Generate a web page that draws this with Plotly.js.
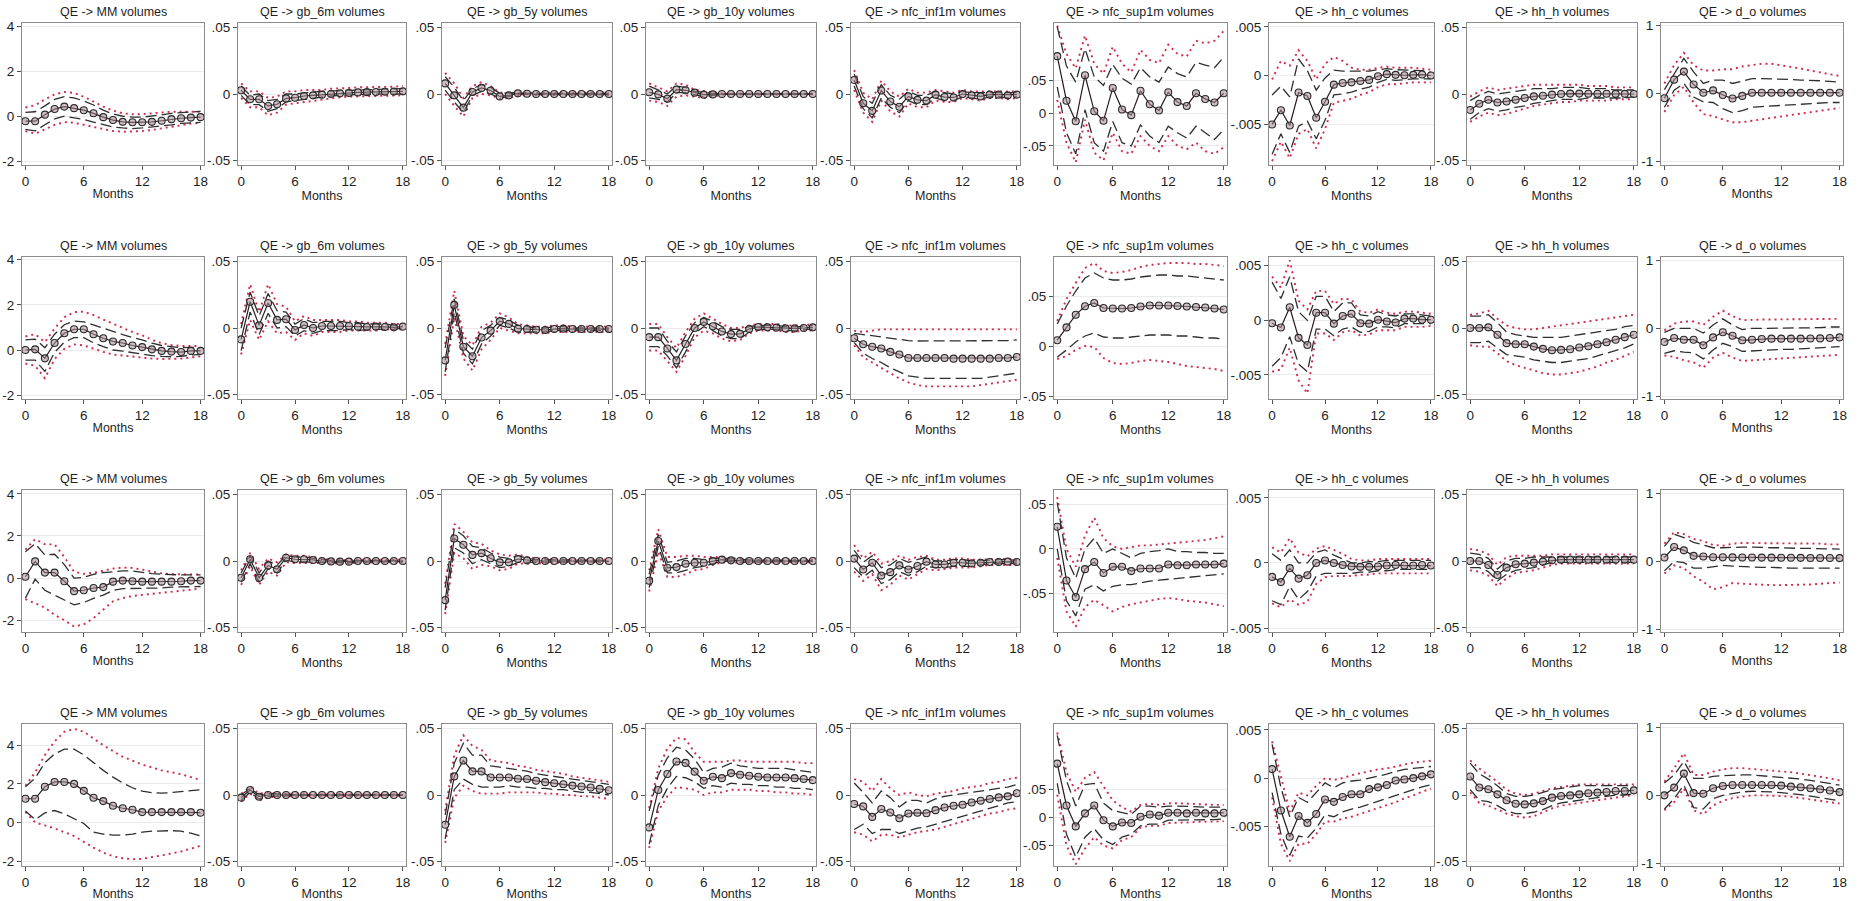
<!DOCTYPE html>
<html>
<head>
<meta charset="utf-8">
<script src="https://cdn.plot.ly/plotly-3.0.1.min.js"></script>
<style>
  html, body { margin: 0; padding: 0; background: #fff; }
  #irf_grid { width: 1865px; height: 901px; }
</style>
</head>
<body>
<div id="irf_grid"></div>
<script>
// impulse responses of volumes to a QE shock, 4 specifications x 9 variables
var months = [0,1,2,3,4,5,6,7,8,9,10,11,12,13,14,15,16,17,18];
var monthTicks = [0,6,12,18];
var varNames = ['MM','gb_6m','gb_5y','gb_10y','nfc_inf1m','nfc_sup1m','hh_c','hh_h','d_o'];

var yTickVals = [[-2,0,2,4],[-0.05,0,0.05],[-0.05,0,0.05],[-0.05,0,0.05],[-0.05,0,0.05],
                 [-0.05,0,0.05],[-0.005,0,0.005],[-0.05,0,0.05],[-1,0,1]];
var yTickText = [['-2','0','2','4'],['-.05','0','.05'],['-.05','0','.05'],['-.05','0','.05'],['-.05','0','.05'],
                 ['-.05','0','.05'],['-.005','0','.005'],['-.05','0','.05'],['-1','0','1']];

// ---- row 1 ----
var irfRow1 = [
  [-0.22,-0.22,0.07,0.32,0.43,0.36,0.27,0.13,-0.04,-0.17,-0.25,-0.27,-0.27,-0.25,-0.2,-0.13,-0.09,-0.06,-0.04],
  [0.0028,-0.004,-0.004,-0.009,-0.0077,-0.0033,-0.0028,-0.0015,-0.001,-0.0005,0,0.0005,0.0008,0.0012,0.0014,0.0015,0.0017,0.0018,0.002],
  [0.008,-0.001,-0.0103,0.0015,0.0046,0.0026,-0.0018,-0.001,0.0005,0.0002,0,0,0,0,0,0,0,0,0],
  [0.0013,-0.0003,-0.0036,0.0033,0.0028,0.001,-0.0005,-0.0003,0,0,0,0,0,0,0,0,0,0,0],
  [0.0106,-0.007,-0.0127,0.0026,-0.0057,-0.0096,-0.0018,-0.0044,-0.005,-0.0005,-0.0023,-0.0026,0,-0.001,-0.0018,-0.0005,-0.0005,-0.001,-0.0005],
  [0.0866,0.0188,-0.0124,0.0575,0.0027,-0.0118,0.0382,0.0054,-0.0032,0.0339,0.0134,0.0038,0.0317,0.0167,0.0108,0.0301,0.0215,0.0161,0.0301],
  [-0.00503,-0.00357,-0.00514,-0.00175,-0.0021,-0.00434,-0.0027,-0.00094,-0.00077,-0.0007,-0.00056,-0.00045,-0.00007,0.00014,0.00007,0.00003,0.00007,0.0001,0],
  [-0.012,-0.0074,-0.0043,-0.0064,-0.0056,-0.0043,-0.003,-0.0018,-0.0013,-0.0005,0,0.0003,0.0003,0.0002,0.0002,0.0002,0.0001,0.0001,0],
  [-0.067,0.206,0.325,0.134,0.014,0.048,-0.019,-0.072,-0.033,0.014,0.014,0.014,0.014,0.014,0.014,0.014,0.014,0.014,0.014]
];
var hi68Row1 = [
  [0.17,0.2,0.46,0.75,0.87,0.82,0.68,0.5,0.27,0.1,0,-0.04,-0.04,0,0.06,0.13,0.17,0.2,0.22],
  [0.006,-0.001,0,-0.005,-0.004,0,0,0.001,0.0015,0.002,0.002,0.0025,0.0028,0.003,0.003,0.0032,0.0035,0.0037,0.004],
  [0.013,0.005,-0.005,0.004,0.007,0.005,0.0005,0.001,0.001,0.0005,0.0005,0.0005,0.0005,0.0005,0.0005,0.0005,0.0005,0.0005,0.0005],
  [0.006,0.003,0,0.006,0.005,0.002,0.001,0.0005,0.0003,0.0003,0.0003,0.0003,0.0003,0.0003,0.0003,0.0003,0.0003,0.0003,0.0003],
  [0.015,-0.002,-0.007,0.007,-0.001,-0.004,0.002,-0.001,-0.001,0.002,0.001,0,0.002,0.001,0.001,0.001,0.001,0.001,0.001],
  [0.131,0.0715,0.047,0.098,0.055,0.042,0.074,0.053,0.044,0.069,0.055,0.047,0.07,0.06,0.055,0.077,0.073,0.069,0.085],
  [-0.002,-0.0011,-0.0022,0.0017,0.0005,-0.0015,-0.00025,0.00056,0.00045,0.00045,0.0004,0.00045,0.0006,0.0007,0.0006,0.00056,0.00056,0.0005,0.00035],
  [-0.005,-0.001,0.002,0,0.001,0.002,0.003,0.004,0.004,0.004,0.005,0.005,0.005,0.004,0.004,0.004,0.003,0.003,0.003],
  [0.06,0.3,0.52,0.32,0.15,0.2,0.2,0.15,0.18,0.22,0.22,0.22,0.22,0.21,0.2,0.2,0.19,0.18,0.17]
];
var lo68Row1 = [
  [-0.58,-0.65,-0.38,-0.12,0,-0.07,-0.14,-0.26,-0.38,-0.48,-0.52,-0.55,-0.52,-0.48,-0.45,-0.38,-0.32,-0.29,-0.27],
  [-0.001,-0.008,-0.008,-0.013,-0.011,-0.006,-0.005,-0.004,-0.003,-0.002,-0.0015,-0.001,-0.0005,-0.0003,-0.0002,-0.0001,0,0,0],
  [0.003,-0.006,-0.014,-0.001,0.002,0,-0.003,-0.002,0,-0.0005,-0.0005,-0.0005,-0.0005,-0.0005,-0.0005,-0.0005,-0.0005,-0.0005,-0.0005],
  [-0.003,-0.004,-0.006,0.001,0.001,-0.0005,-0.002,-0.001,-0.0003,-0.0003,-0.0003,-0.0003,-0.0003,-0.0003,-0.0003,-0.0003,-0.0003,-0.0003,-0.0003],
  [0.006,-0.011,-0.018,-0.003,-0.01,-0.014,-0.005,-0.008,-0.008,-0.003,-0.005,-0.005,-0.002,-0.003,-0.004,-0.002,-0.002,-0.003,-0.002],
  [0.04,-0.03,-0.062,0.005,-0.045,-0.058,-0.013,-0.045,-0.05,-0.018,-0.035,-0.045,-0.02,-0.03,-0.038,-0.02,-0.03,-0.04,-0.025],
  [-0.0081,-0.006,-0.0079,-0.0052,-0.0047,-0.0065,-0.0046,-0.002,-0.0019,-0.0017,-0.0014,-0.0012,-0.0007,-0.0004,-0.0005,-0.0004,-0.00035,-0.00035,-0.00035],
  [-0.019,-0.014,-0.011,-0.013,-0.012,-0.01,-0.009,-0.007,-0.006,-0.005,-0.004,-0.004,-0.004,-0.003,-0.003,-0.003,-0.003,-0.003,-0.002],
  [-0.2,0.05,0.15,-0.05,-0.12,-0.13,-0.22,-0.28,-0.25,-0.2,-0.19,-0.18,-0.17,-0.16,-0.15,-0.14,-0.13,-0.13,-0.13]
];
var hi90Row1 = [
  [0.39,0.49,0.75,0.97,1.08,1.04,0.87,0.65,0.43,0.25,0.13,0.09,0.09,0.13,0.17,0.2,0.2,0.2,0.2],
  [0.008,0.002,0.002,-0.003,-0.002,0.002,0.002,0.003,0.003,0.003,0.004,0.004,0.0045,0.005,0.005,0.005,0.0055,0.0055,0.006],
  [0.016,0.008,-0.003,0.006,0.009,0.006,0.001,0.001,0.0015,0.001,0.001,0.001,0.001,0.001,0.001,0.001,0.001,0.001,0.001],
  [0.008,0.005,0.002,0.008,0.007,0.003,0.002,0.001,0.0005,0.0005,0.0005,0.0005,0.0005,0.0005,0.0005,0.0005,0.0005,0.0005,0.0005],
  [0.018,0.001,-0.004,0.01,0.002,-0.002,0.004,0.001,0.001,0.003,0.002,0.001,0.003,0.002,0.002,0.002,0.002,0.002,0.002],
  [0.133,0.09,0.068,0.118,0.075,0.06,0.101,0.075,0.062,0.096,0.081,0.076,0.104,0.09,0.086,0.11,0.106,0.11,0.125],
  [-0.0004,0.0015,0.001,0.0026,0.0015,-0.0004,0.0012,0.0019,0.0015,0.0008,0.0006,0.0006,0.0008,0.0009,0.0008,0.0008,0.0008,0.0007,0.0006],
  [-0.002,0.002,0.005,0.003,0.004,0.005,0.006,0.007,0.007,0.007,0.007,0.007,0.007,0.006,0.006,0.006,0.005,0.005,0.005],
  [0.15,0.42,0.6,0.42,0.34,0.34,0.36,0.36,0.4,0.42,0.44,0.44,0.42,0.4,0.37,0.34,0.31,0.29,0.26]
];
var lo90Row1 = [
  [-0.66,-0.77,-0.59,-0.38,-0.26,-0.29,-0.38,-0.48,-0.59,-0.66,-0.69,-0.69,-0.66,-0.61,-0.55,-0.48,-0.4,-0.33,-0.29],
  [-0.003,-0.01,-0.01,-0.016,-0.014,-0.008,-0.007,-0.006,-0.005,-0.004,-0.003,-0.0025,-0.002,-0.0018,-0.0015,-0.0013,-0.0012,-0.001,-0.001],
  [0,-0.009,-0.017,-0.003,0,-0.001,-0.0035,-0.003,-0.001,-0.0008,-0.0008,-0.0008,-0.0008,-0.0008,-0.0008,-0.0008,-0.0008,-0.0008,-0.0008],
  [-0.005,-0.006,-0.009,-0.002,-0.001,-0.002,-0.003,-0.002,-0.0005,-0.0005,-0.0005,-0.0005,-0.0005,-0.0005,-0.0005,-0.0005,-0.0005,-0.0005,-0.0005],
  [0.003,-0.014,-0.021,-0.005,-0.013,-0.017,-0.007,-0.01,-0.01,-0.005,-0.006,-0.006,-0.003,-0.004,-0.005,-0.003,-0.003,-0.004,-0.003],
  [0.02,-0.045,-0.075,-0.01,-0.06,-0.072,-0.03,-0.058,-0.062,-0.035,-0.05,-0.058,-0.035,-0.05,-0.055,-0.045,-0.058,-0.062,-0.052],
  [-0.0088,-0.0068,-0.0085,-0.006,-0.0055,-0.0075,-0.0055,-0.0028,-0.0026,-0.0024,-0.002,-0.0017,-0.0012,-0.0009,-0.0009,-0.0008,-0.0007,-0.0007,-0.0007],
  [-0.021,-0.017,-0.014,-0.016,-0.015,-0.013,-0.011,-0.009,-0.008,-0.007,-0.006,-0.006,-0.005,-0.005,-0.005,-0.005,-0.004,-0.004,-0.004],
  [-0.27,-0.02,0.1,-0.13,-0.3,-0.33,-0.38,-0.42,-0.42,-0.4,-0.38,-0.36,-0.34,-0.32,-0.3,-0.28,-0.25,-0.23,-0.21]
];

// ---- row 2 ----
var irfRow2 = [
  [0,0.03,-0.37,0.31,0.74,0.92,0.92,0.7,0.52,0.38,0.31,0.2,0.13,0.03,-0.04,-0.07,-0.09,-0.04,-0.04],
  [-0.0086,0.0198,0.002,0.0188,0.0061,0.0066,-0.0015,0.0023,0,0.0015,0.0015,0.0015,0.0015,0.001,0.0008,0.001,0.0008,0.0005,0.001],
  [-0.0244,0.0174,-0.0141,-0.0213,-0.0072,-0.002,0.0051,0.0031,-0.0005,-0.0008,-0.0013,-0.0015,-0.0008,-0.0005,-0.0008,-0.0008,-0.0008,-0.0008,-0.0008],
  [-0.0069,-0.0069,-0.0154,-0.0244,-0.012,0,0.0046,0.0013,-0.0026,-0.0046,-0.0044,-0.0008,0.0008,0.0005,0.0003,-0.0003,-0.0003,0,0.0005],
  [-0.0077,-0.0123,-0.0141,-0.0154,-0.018,-0.02,-0.0226,-0.0226,-0.0226,-0.0226,-0.0226,-0.0231,-0.0231,-0.0231,-0.0231,-0.0231,-0.0226,-0.0226,-0.0218],
  [0.0058,0.0186,0.0312,0.0397,0.043,0.038,0.0375,0.0375,0.038,0.0395,0.0405,0.0405,0.0405,0.04,0.0395,0.039,0.0385,0.0375,0.0365],
  [-0.00026,-0.00065,0.0012,-0.0016,-0.00226,0.0007,0.0007,-0.0003,0.0004,0.0006,-0.00026,-0.0003,0.00006,-0.0001,-0.0002,0.00016,0.00016,0.00006,0.00006],
  [0,0,0.0005,-0.0051,-0.0114,-0.0122,-0.0122,-0.014,-0.0157,-0.0168,-0.0165,-0.016,-0.0147,-0.0137,-0.0122,-0.0107,-0.0089,-0.0069,-0.0051],
  [-0.2,-0.143,-0.167,-0.167,-0.248,-0.133,-0.057,-0.11,-0.176,-0.167,-0.157,-0.152,-0.152,-0.152,-0.152,-0.15,-0.148,-0.143,-0.133]
];
var hi68Row2 = [
  [0.45,0.48,0.1,0.7,1.12,1.28,1.25,1.1,0.95,0.8,0.68,0.55,0.45,0.3,0.2,0.15,0.1,0.12,0.1],
  [0,0.027,0.009,0.026,0.013,0.012,0.003,0.007,0.004,0.005,0.005,0.005,0.004,0.004,0.003,0.003,0.003,0.002,0.002],
  [-0.015,0.022,-0.009,-0.016,-0.002,0.002,0.008,0.006,0.002,0.001,0,0,0.001,0.001,0,0,0,0,0],
  [0,0,-0.01,-0.018,-0.006,0.004,0.008,0.005,0.001,-0.001,-0.001,0.001,0.002,0.002,0.002,0.001,0.001,0.001,0.002],
  [-0.004,-0.005,-0.006,-0.007,-0.008,-0.009,-0.0095,-0.0098,-0.0098,-0.0095,-0.0095,-0.0095,-0.01,-0.01,-0.01,-0.01,-0.0098,-0.0095,-0.009],
  [0.022,0.04,0.055,0.068,0.073,0.068,0.066,0.066,0.067,0.069,0.07,0.071,0.071,0.07,0.07,0.069,0.068,0.067,0.066],
  [0.0035,0.002,0.004,0.0008,0,0.0022,0.0022,0.0008,0.0016,0.0016,0.0005,0.0004,0.0008,0.0005,0.0004,0.0006,0.0006,0.0005,0.0004],
  [0.009,0.009,0.01,0.004,-0.003,-0.005,-0.006,-0.007,-0.007,-0.007,-0.007,-0.006,-0.005,-0.004,-0.003,-0.002,-0.001,0.001,0.002],
  [-0.06,0,0,0,-0.07,0.05,0.14,0.05,-0.02,0,0,0,0.01,0.01,0.01,0.01,0.01,0.02,0.02]
];
var lo68Row2 = [
  [-0.45,-0.45,-0.95,-0.1,0.35,0.55,0.55,0.32,0.15,0,-0.05,-0.12,-0.18,-0.25,-0.28,-0.3,-0.28,-0.22,-0.2],
  [-0.017,0.012,-0.005,0.011,0,0.001,-0.006,-0.002,-0.004,-0.002,-0.002,-0.002,-0.001,-0.002,-0.001,-0.001,-0.001,-0.001,0],
  [-0.033,0.012,-0.019,-0.027,-0.012,-0.006,0.002,0,-0.003,-0.003,-0.003,-0.003,-0.002,-0.002,-0.002,-0.002,-0.002,-0.002,-0.002],
  [-0.014,-0.014,-0.021,-0.03,-0.018,-0.004,0.001,-0.002,-0.006,-0.008,-0.008,-0.003,-0.001,-0.001,-0.001,-0.002,-0.002,-0.001,-0.001],
  [-0.011,-0.019,-0.023,-0.026,-0.03,-0.033,-0.036,-0.037,-0.038,-0.038,-0.038,-0.038,-0.038,-0.038,-0.038,-0.037,-0.036,-0.035,-0.034],
  [-0.011,-0.004,0.004,0.01,0.013,0.009,0.008,0.008,0.009,0.01,0.011,0.011,0.011,0.01,0.01,0.009,0.008,0.008,0.007],
  [-0.0042,-0.0034,-0.0015,-0.004,-0.0047,-0.0008,-0.0008,-0.0014,-0.0008,-0.0006,-0.0011,-0.001,-0.0006,-0.0006,-0.0007,-0.0003,-0.0003,-0.0003,-0.0003],
  [-0.011,-0.011,-0.01,-0.015,-0.02,-0.021,-0.022,-0.024,-0.025,-0.026,-0.026,-0.025,-0.024,-0.023,-0.021,-0.019,-0.017,-0.015,-0.012],
  [-0.37,-0.33,-0.35,-0.36,-0.45,-0.32,-0.22,-0.27,-0.34,-0.33,-0.32,-0.32,-0.31,-0.31,-0.3,-0.3,-0.29,-0.28,-0.27]
];
var hi90Row2 = [
  [0.6,0.7,0.35,0.95,1.45,1.68,1.7,1.55,1.35,1.15,0.98,0.8,0.65,0.45,0.3,0.22,0.18,0.18,0.18],
  [0.003,0.033,0.012,0.033,0.018,0.016,0.005,0.009,0.006,0.006,0.006,0.006,0.005,0.005,0.004,0.004,0.004,0.003,0.003],
  [-0.012,0.028,-0.006,-0.013,0.001,0.004,0.011,0.008,0.003,0.002,0.001,0.001,0.002,0.002,0.001,0.001,0.001,0.001,0.001],
  [0.003,0.003,-0.007,-0.015,-0.003,0.007,0.011,0.007,0.003,0,0,0.002,0.003,0.003,0.003,0.002,0.002,0.002,0.003],
  [-0.002,-0.003,-0.002,-0.001,-0.001,-0.001,-0.001,-0.001,-0.001,-0.001,-0.001,-0.001,-0.001,-0.001,-0.001,-0.001,-0.001,-0.001,-0.001],
  [0.025,0.047,0.063,0.078,0.083,0.075,0.073,0.074,0.076,0.079,0.081,0.082,0.083,0.083,0.083,0.082,0.082,0.081,0.08],
  [0.004,0.003,0.0055,0.0018,0.001,0.0027,0.0027,0.0015,0.002,0.0019,0.0008,0.0007,0.001,0.0007,0.0006,0.0008,0.0008,0.0007,0.0006],
  [0.01,0.011,0.013,0.007,0.002,0,-0.001,-0.001,0,0.001,0.002,0.003,0.004,0.005,0.006,0.007,0.008,0.009,0.01],
  [-0.03,0.07,0.1,0.1,0.05,0.17,0.26,0.18,0.12,0.13,0.13,0.13,0.13,0.13,0.13,0.13,0.13,0.14,0.14]
];
var lo90Row2 = [
  [-0.6,-0.7,-1.25,-0.4,0.05,0.25,0.2,0.05,-0.08,-0.2,-0.25,-0.3,-0.35,-0.38,-0.4,-0.4,-0.38,-0.33,-0.28],
  [-0.02,0.006,-0.009,0.005,-0.004,-0.003,-0.009,-0.004,-0.006,-0.003,-0.003,-0.003,-0.002,-0.002,-0.002,-0.002,-0.001,-0.001,-0.001],
  [-0.036,0.008,-0.023,-0.032,-0.016,-0.009,0,-0.002,-0.004,-0.004,-0.004,-0.004,-0.003,-0.003,-0.003,-0.003,-0.003,-0.003,-0.003],
  [-0.017,-0.017,-0.025,-0.033,-0.021,-0.007,-0.002,-0.004,-0.008,-0.01,-0.009,-0.004,-0.002,-0.002,-0.002,-0.003,-0.003,-0.002,-0.002],
  [-0.013,-0.022,-0.026,-0.03,-0.034,-0.038,-0.041,-0.043,-0.044,-0.044,-0.044,-0.044,-0.044,-0.044,-0.043,-0.042,-0.041,-0.04,-0.039],
  [-0.013,-0.01,-0.004,0,-0.001,-0.012,-0.017,-0.018,-0.017,-0.015,-0.014,-0.015,-0.016,-0.018,-0.02,-0.021,-0.022,-0.023,-0.025],
  [-0.0047,-0.0045,-0.0025,-0.0055,-0.0067,-0.0012,-0.0012,-0.0018,-0.0011,-0.0009,-0.0014,-0.0013,-0.0009,-0.0009,-0.0009,-0.0006,-0.0006,-0.0006,-0.0005],
  [-0.013,-0.014,-0.014,-0.019,-0.025,-0.028,-0.03,-0.032,-0.034,-0.035,-0.035,-0.034,-0.033,-0.031,-0.029,-0.026,-0.024,-0.021,-0.018],
  [-0.4,-0.42,-0.47,-0.5,-0.58,-0.43,-0.36,-0.43,-0.48,-0.47,-0.46,-0.45,-0.44,-0.43,-0.43,-0.42,-0.41,-0.4,-0.39]
];

// ---- row 3 ----
var irfRow3 = [
  [0.06,0.79,0.26,0.26,-0.15,-0.62,-0.58,-0.47,-0.43,-0.17,-0.12,-0.15,-0.17,-0.17,-0.17,-0.17,-0.15,-0.12,-0.12],
  [-0.0126,0.0013,-0.0126,-0.0033,-0.0063,0.0025,0.0013,0.0013,0.0008,0,-0.0003,-0.0005,-0.0005,0,0,0,0,0,0],
  [-0.0295,0.0169,0.0123,0.0046,0.0059,0.0021,-0.001,-0.001,0.0015,0.0005,0,0,0,0,0,0,0,0,0],
  [-0.0149,0.0151,-0.0051,-0.0046,-0.0021,-0.0013,-0.0013,0,0.001,0.0005,0,0,0,0,0,0,0,0,0],
  [0.0018,-0.0064,-0.0013,-0.011,-0.0084,-0.0033,-0.0064,-0.0038,-0.0005,-0.0026,-0.0026,-0.0013,-0.0013,-0.0018,-0.0013,-0.0008,-0.0008,-0.0005,-0.0008],
  [0.0248,-0.0354,-0.054,-0.0226,-0.0146,-0.027,-0.02,-0.02,-0.0248,-0.0219,-0.0219,-0.0219,-0.0175,-0.0182,-0.0182,-0.0175,-0.0175,-0.0175,-0.0164],
  [-0.00107,-0.00147,-0.0004,-0.0012,-0.00094,0,0.00019,0,-0.00016,-0.00027,-0.0003,-0.0003,-0.00027,-0.0002,-0.00016,-0.0002,-0.0002,-0.00016,-0.0002],
  [0,0,-0.003,-0.0105,-0.005,-0.0025,-0.002,-0.0012,-0.0005,0.0005,0.001,0.001,0.001,0.001,0.001,0.001,0.001,0.001,0.001],
  [0.057,0.21,0.162,0.081,0.072,0.06,0.06,0.058,0.057,0.056,0.055,0.054,0.053,0.052,0.051,0.05,0.05,0.049,0.048]
];
var hi68Row3 = [
  [1.25,1.63,1.1,1.13,0.64,0,0.03,0.18,0.26,0.3,0.34,0.34,0.26,0.21,0.18,0.15,0.15,0.15,0.15],
  [-0.009,0.004,-0.009,0,-0.003,0.004,0.003,0.003,0.002,0.001,0.0005,0.0003,0.0003,0.0005,0.0005,0.0005,0.0005,0.0005,0.0005],
  [-0.02,0.024,0.019,0.011,0.01,0.006,0.003,0.002,0.004,0.002,0.001,0.001,0.001,0.0005,0.0005,0.0005,0.0005,0.0005,0.0005],
  [-0.01,0.02,-0.001,0,0.002,0.002,0.001,0.002,0.002,0.0015,0.001,0.0008,0.0006,0.0005,0.0005,0.0005,0.0005,0.0005,0.0005],
  [0.008,-0.001,0.004,-0.005,-0.003,0.002,-0.001,0.001,0.003,0,0,0.001,0.001,0,0.0005,0.001,0.001,0.001,0.0005],
  [0.052,-0.01,-0.033,0,0.012,-0.005,0,-0.005,-0.01,-0.005,-0.003,-0.002,0,-0.003,-0.003,-0.004,-0.004,-0.005,-0.005],
  [0.0007,0.0002,0.001,0,0,0.0008,0.001,0.0006,0.0003,0,0,0.0001,0.0001,0.0002,0.0002,0.0002,0.0002,0.0002,0.0002],
  [0.006,0.005,0.002,-0.006,0,0.002,0.002,0.003,0.003,0.003,0.003,0.003,0.003,0.003,0.003,0.003,0.003,0.003,0.003],
  [0.22,0.4,0.35,0.28,0.24,0.2,0.2,0.21,0.21,0.21,0.2,0.2,0.2,0.19,0.19,0.19,0.19,0.19,0.18]
];
var lo68Row3 = [
  [-0.95,-0.05,-0.58,-0.81,-1.04,-1.27,-1.16,-0.96,-0.81,-0.58,-0.5,-0.5,-0.5,-0.5,-0.47,-0.43,-0.43,-0.4,-0.4],
  [-0.016,-0.002,-0.016,-0.006,-0.009,0.0005,-0.0005,-0.0005,-0.0005,-0.001,-0.0012,-0.0013,-0.0013,-0.0008,-0.0006,-0.0005,-0.0005,-0.0005,-0.0005],
  [-0.037,0.01,0.006,-0.002,0.001,-0.002,-0.005,-0.004,-0.001,-0.001,-0.001,-0.001,-0.001,-0.0008,-0.0006,-0.0005,-0.0005,-0.0005,-0.0005],
  [-0.02,0.011,-0.009,-0.009,-0.007,-0.005,-0.004,-0.002,0,-0.0005,-0.001,-0.0008,-0.0006,-0.0005,-0.0005,-0.0005,-0.0005,-0.0005,-0.0005],
  [-0.005,-0.012,-0.007,-0.017,-0.014,-0.008,-0.011,-0.008,-0.004,-0.005,-0.005,-0.004,-0.004,-0.004,-0.003,-0.002,-0.002,-0.002,-0.002],
  [0,-0.058,-0.075,-0.045,-0.04,-0.047,-0.042,-0.04,-0.04,-0.038,-0.036,-0.035,-0.034,-0.033,-0.032,-0.031,-0.03,-0.029,-0.028],
  [-0.0029,-0.0032,-0.0018,-0.0028,-0.0022,-0.001,-0.0008,-0.0008,-0.0008,-0.0008,-0.0007,-0.0007,-0.0006,-0.0006,-0.0005,-0.0005,-0.0005,-0.0005,-0.0005],
  [-0.005,-0.005,-0.008,-0.015,-0.01,-0.007,-0.006,-0.005,-0.003,-0.001,-0.001,-0.001,-0.001,-0.001,-0.001,-0.001,-0.001,-0.001,-0.001],
  [-0.14,0,-0.02,-0.1,-0.1,-0.08,-0.06,-0.07,-0.08,-0.09,-0.09,-0.09,-0.1,-0.1,-0.1,-0.1,-0.1,-0.1,-0.1]
];
var hi90Row3 = [
  [1.35,1.85,1.6,1.6,1.0,0.3,0.2,0.25,0.35,0.45,0.5,0.48,0.4,0.3,0.22,0.18,0.17,0.17,0.17],
  [-0.007,0.006,-0.006,0.002,-0.001,0.005,0.004,0.004,0.003,0.0015,0.001,0.0008,0.0008,0.001,0.001,0.001,0.001,0.001,0.001],
  [-0.017,0.028,0.022,0.014,0.013,0.008,0.005,0.004,0.005,0.003,0.002,0.002,0.0015,0.001,0.001,0.001,0.001,0.001,0.001],
  [-0.007,0.024,0.003,0.003,0.004,0.004,0.003,0.003,0.003,0.002,0.0015,0.0012,0.001,0.001,0.001,0.001,0.001,0.001,0.001],
  [0.012,0.002,0.007,-0.002,0,0.004,0.001,0.003,0.004,0.001,0.001,0.002,0.002,0.001,0.001,0.0015,0.0015,0.0015,0.001],
  [0.058,0,-0.02,0.015,0.035,0.012,0.003,0,0.002,0.004,0.004,0.005,0.006,0.007,0.008,0.009,0.01,0.012,0.014],
  [0.0012,0.0008,0.0019,0.0008,0.0005,0.0011,0.0013,0.001,0.0007,0.0003,0.0002,0.0002,0.0003,0.0003,0.0003,0.0003,0.0003,0.0003,0.0003],
  [0.009,0.008,0.005,-0.003,0.003,0.004,0.004,0.004,0.004,0.005,0.005,0.005,0.005,0.005,0.005,0.005,0.005,0.005,0.005],
  [0.26,0.43,0.4,0.33,0.3,0.24,0.23,0.26,0.27,0.27,0.27,0.27,0.26,0.26,0.26,0.26,0.26,0.25,0.25]
];
var lo90Row3 = [
  [-1.0,-1.2,-1.4,-1.75,-2.0,-2.3,-2.2,-1.9,-1.5,-1.1,-0.95,-0.85,-0.8,-0.75,-0.7,-0.65,-0.6,-0.55,-0.5],
  [-0.018,-0.004,-0.018,-0.008,-0.011,-0.001,-0.0015,-0.0015,-0.0012,-0.0015,-0.0018,-0.0018,-0.0018,-0.0012,-0.001,-0.001,-0.001,-0.001,-0.001],
  [-0.04,0.006,0.002,-0.006,-0.003,-0.004,-0.007,-0.006,-0.002,-0.002,-0.0015,-0.0015,-0.0015,-0.001,-0.001,-0.001,-0.001,-0.001,-0.001],
  [-0.023,0.007,-0.012,-0.012,-0.01,-0.007,-0.006,-0.003,-0.001,-0.0012,-0.0015,-0.0012,-0.001,-0.001,-0.001,-0.001,-0.001,-0.001,-0.001],
  [-0.008,-0.015,-0.01,-0.022,-0.018,-0.011,-0.014,-0.01,-0.006,-0.007,-0.006,-0.005,-0.005,-0.005,-0.004,-0.003,-0.003,-0.003,-0.003],
  [-0.01,-0.07,-0.087,-0.065,-0.057,-0.063,-0.07,-0.065,-0.062,-0.06,-0.058,-0.056,-0.055,-0.056,-0.058,-0.059,-0.06,-0.062,-0.064],
  [-0.0031,-0.0034,-0.0028,-0.0032,-0.003,-0.0016,-0.0011,-0.001,-0.001,-0.001,-0.0009,-0.0009,-0.0008,-0.0008,-0.0008,-0.0008,-0.0008,-0.0008,-0.0008],
  [-0.007,-0.008,-0.011,-0.019,-0.013,-0.009,-0.008,-0.007,-0.005,-0.003,-0.002,-0.002,-0.002,-0.002,-0.002,-0.002,-0.002,-0.002,-0.002],
  [-0.18,-0.06,-0.1,-0.22,-0.3,-0.41,-0.38,-0.32,-0.33,-0.34,-0.35,-0.35,-0.35,-0.35,-0.35,-0.34,-0.33,-0.32,-0.31]
];

// ---- row 4 ----
var irfRow4 = [
  [1.23,1.23,1.85,2.1,2.1,2.0,1.64,1.28,1.11,0.87,0.74,0.66,0.54,0.54,0.54,0.54,0.54,0.54,0.51],
  [-0.002,0.0038,-0.0013,0,0,0,0,0,0,0,0,0,0,0,0,0,0,0,0],
  [-0.0224,0.014,0.026,0.0178,0.0178,0.0132,0.0132,0.0132,0.0122,0.012,0.0107,0.0097,0.0089,0.0081,0.0071,0.0064,0.0056,0.0046,0.0036],
  [-0.0244,0.0038,0.0158,0.0252,0.0242,0.0176,0.0107,0.0137,0.0127,0.0165,0.0153,0.0145,0.0137,0.0132,0.0132,0.0132,0.0127,0.012,0.0112],
  [-0.0068,-0.0086,-0.0165,-0.0106,-0.0132,-0.0175,-0.0139,-0.0134,-0.0137,-0.0114,-0.0094,-0.0081,-0.0073,-0.0056,-0.0043,-0.003,-0.0018,-0.001,0.0013],
  [0.095,0.021,-0.016,0.007,0.021,-0.005,-0.016,-0.009,-0.01,0.001,0.005,0.003,0.008,0.008,0.007,0.008,0.007,0.007,0.008],
  [0.00093,-0.00336,-0.00607,-0.00393,-0.00464,-0.00371,-0.00221,-0.00246,-0.00196,-0.00168,-0.00168,-0.00114,-0.00096,-0.00071,-0.00025,-0.00014,0,0.00018,0.00039],
  [0.0139,0.0056,0.0043,0.0005,-0.004,-0.0066,-0.0071,-0.0063,-0.0046,-0.002,-0.0008,-0.0003,0.0005,0.0013,0.0018,0.0023,0.003,0.003,0.0035],
  [0,0.114,0.32,0.033,0.024,0.105,0.138,0.152,0.152,0.152,0.152,0.152,0.143,0.129,0.119,0.105,0.09,0.071,0.048]
];
var hi68Row4 = [
  [1.85,2.3,3.1,3.55,3.8,3.8,3.5,3.1,2.7,2.35,2.05,1.8,1.62,1.55,1.52,1.55,1.6,1.65,1.7],
  [0,0.005,0,0.001,0.001,0.0005,0.0003,0.0003,0.0003,0.0003,0.0003,0.0003,0.0003,0.0003,0.0003,0.0003,0.0003,0.0003,0.0003],
  [-0.015,0.024,0.039,0.03,0.03,0.022,0.021,0.02,0.019,0.018,0.016,0.015,0.014,0.013,0.012,0.011,0.01,0.009,0.008],
  [-0.012,0.015,0.028,0.036,0.034,0.027,0.017,0.02,0.021,0.024,0.022,0.021,0.02,0.02,0.02,0.02,0.019,0.018,0.017],
  [0.009,0.002,-0.006,0.003,-0.002,-0.009,-0.004,-0.004,-0.006,-0.003,-0.001,0,0.001,0.002,0.003,0.004,0.005,0.006,0.008],
  [0.145,0.065,0.02,0.058,0.06,0.025,0.012,0.008,0.005,0.02,0.02,0.018,0.02,0.02,0.019,0.019,0.018,0.018,0.018],
  [0.0035,-0.001,-0.004,-0.002,-0.0025,-0.0015,-0.0005,-0.001,-0.0005,-0.0003,-0.0002,0,0.0002,0.0004,0.0007,0.0009,0.001,0.0011,0.0012],
  [0.024,0.016,0.012,0.007,0.001,-0.001,-0.001,0,0.002,0.004,0.005,0.006,0.007,0.007,0.007,0.007,0.007,0.007,0.007],
  [0.18,0.3,0.5,0.25,0.25,0.28,0.29,0.3,0.3,0.3,0.29,0.28,0.27,0.26,0.24,0.22,0.2,0.18,0.15]
];
var lo68Row4 = [
  [0.6,0.15,0.5,0.62,0.45,0.2,-0.05,-0.5,-0.6,-0.65,-0.65,-0.6,-0.5,-0.45,-0.42,-0.42,-0.45,-0.55,-0.7],
  [-0.004,0.002,-0.003,-0.001,-0.001,-0.0005,-0.0003,-0.0003,-0.0003,-0.0003,-0.0003,-0.0003,-0.0003,-0.0003,-0.0003,-0.0003,-0.0003,-0.0003,-0.0003],
  [-0.033,0.004,0.012,0.008,0.006,0.006,0.006,0.007,0.006,0.006,0.005,0.005,0.004,0.004,0.003,0.002,0.002,0.001,0],
  [-0.037,-0.008,0.005,0.014,0.013,0.01,0.005,0.007,0.006,0.009,0.008,0.008,0.007,0.007,0.006,0.006,0.005,0.005,0.004],
  [-0.026,-0.022,-0.029,-0.026,-0.026,-0.029,-0.027,-0.025,-0.024,-0.022,-0.02,-0.018,-0.016,-0.014,-0.012,-0.01,-0.008,-0.006,-0.005],
  [0.06,-0.03,-0.07,-0.035,-0.02,-0.04,-0.048,-0.035,-0.03,-0.015,-0.012,-0.012,-0.005,-0.005,-0.005,-0.004,-0.004,-0.004,-0.003],
  [-0.0015,-0.0058,-0.008,-0.006,-0.0062,-0.0052,-0.0038,-0.004,-0.0035,-0.0032,-0.003,-0.0027,-0.0024,-0.0021,-0.0018,-0.0015,-0.0012,-0.0009,-0.0007],
  [0.004,-0.004,-0.005,-0.008,-0.012,-0.014,-0.014,-0.013,-0.011,-0.008,-0.006,-0.005,-0.004,-0.003,-0.002,-0.001,0,0,0.001],
  [-0.2,-0.05,0.15,-0.18,-0.2,-0.05,0,0.03,0.05,0.06,0.06,0.05,0.04,0.03,0.01,-0.01,-0.03,-0.05,-0.08]
];
var hi90Row4 = [
  [1.9,2.6,3.5,4.2,4.7,4.85,4.7,4.35,4.0,3.7,3.4,3.2,3.0,2.85,2.7,2.6,2.5,2.35,2.2],
  [0.001,0.006,0.001,0.002,0.001,0.001,0.0005,0.0005,0.0005,0.0005,0.0005,0.0005,0.0005,0.0005,0.0005,0.0005,0.0005,0.0005,0.0005],
  [-0.012,0.03,0.045,0.037,0.034,0.026,0.025,0.024,0.022,0.021,0.019,0.018,0.017,0.016,0.014,0.013,0.012,0.011,0.01],
  [-0.01,0.02,0.035,0.043,0.042,0.032,0.025,0.025,0.025,0.026,0.026,0.025,0.025,0.025,0.025,0.025,0.025,0.024,0.024],
  [0.012,0.01,0.003,0.012,0.005,0,0.002,0,-0.001,0.001,0.002,0.003,0.005,0.006,0.007,0.009,0.01,0.012,0.013],
  [0.15,0.08,0.045,0.07,0.08,0.055,0.03,0.018,0.01,0.022,0.024,0.022,0.025,0.025,0.024,0.024,0.023,0.022,0.022],
  [0.0038,0,-0.0035,-0.0015,-0.0018,-0.0008,0,-0.0002,0,0.0003,0.0005,0.0007,0.0009,0.001,0.0012,0.0014,0.0016,0.0017,0.0018],
  [0.026,0.02,0.015,0.01,0.004,0.001,0,0.001,0.003,0.005,0.006,0.007,0.008,0.008,0.008,0.008,0.008,0.008,0.008],
  [0.2,0.4,0.62,0.3,0.3,0.35,0.38,0.4,0.4,0.39,0.38,0.37,0.36,0.34,0.32,0.3,0.28,0.25,0.22]
];
var lo90Row4 = [
  [0.55,0,-0.15,-0.3,-0.5,-0.7,-1.0,-1.3,-1.55,-1.75,-1.85,-1.9,-1.88,-1.8,-1.7,-1.6,-1.5,-1.35,-1.2],
  [-0.005,0.001,-0.004,-0.002,-0.001,-0.001,-0.0005,-0.0005,-0.0005,-0.0005,-0.0005,-0.0005,-0.0005,-0.0005,-0.0005,-0.0005,-0.0005,-0.0005,-0.0005],
  [-0.036,-0.002,0.007,0.003,0.001,0.001,0.001,0.002,0.002,0.002,0.002,0.001,0.001,0,0,-0.001,-0.001,-0.002,-0.003],
  [-0.04,-0.012,-0.001,0.006,0.005,0.004,0,0.002,0.002,0.004,0.004,0.004,0.003,0.003,0.002,0.002,0.001,0.001,0],
  [-0.028,-0.03,-0.035,-0.03,-0.03,-0.032,-0.03,-0.028,-0.027,-0.026,-0.024,-0.022,-0.02,-0.018,-0.016,-0.014,-0.013,-0.011,-0.01],
  [0.04,-0.05,-0.083,-0.055,-0.035,-0.05,-0.055,-0.04,-0.035,-0.018,-0.015,-0.015,-0.01,-0.01,-0.009,-0.008,-0.008,-0.007,-0.007],
  [-0.002,-0.0068,-0.0086,-0.0068,-0.0068,-0.0058,-0.0045,-0.0045,-0.0042,-0.004,-0.0037,-0.0034,-0.0031,-0.0028,-0.0025,-0.0021,-0.0018,-0.0014,-0.0011],
  [0.002,-0.006,-0.008,-0.011,-0.014,-0.016,-0.017,-0.016,-0.013,-0.01,-0.008,-0.007,-0.006,-0.005,-0.004,-0.003,-0.002,-0.001,0],
  [-0.22,-0.1,0.1,-0.22,-0.28,-0.15,-0.08,-0.04,-0.02,0,0,0,-0.01,-0.02,-0.04,-0.06,-0.08,-0.1,-0.12]
];

var rows = [
  {irf: irfRow1, hi68: hi68Row1, lo68: lo68Row1, hi90: hi90Row1, lo90: lo90Row1},
  {irf: irfRow2, hi68: hi68Row2, lo68: lo68Row2, hi90: hi90Row2, lo90: lo90Row2},
  {irf: irfRow3, hi68: hi68Row3, lo68: lo68Row3, hi90: hi90Row3, lo90: lo90Row3},
  {irf: irfRow4, hi68: hi68Row4, lo68: lo68Row4, hi90: hi90Row4, lo90: lo90Row4}
];

// panel geometry in pixels of the 1865x901 page
var W = 1865, H = 901;
var colLeft  = [22, 238, 442, 646, 851, 1054, 1269, 1467, 1661];
var colRight = [204, 406, 612, 816, 1020, 1227, 1434, 1637, 1843];
var rowTop = [23, 257, 490, 724];
var boxH = 142;

var rateRange = [-0.0535, 0.0535];
var yRanges = [
  [[-2.17,4.15], rateRange, rateRange, rateRange, rateRange, [-0.079,0.137], [-0.0092,0.0054], rateRange, [-1.05,1.04]],
  [[-2.17,4.12], rateRange, rateRange, rateRange, rateRange, [-0.053,0.089], [-0.0072,0.0058], rateRange, [-1.04,1.05]],
  [[-2.56,4.18], rateRange, rateRange, rateRange, rateRange, [-0.093,0.066], [-0.0053,0.0056], rateRange, [-1.04,1.05]],
  [[-2.25,5.1],  rateRange, rateRange, rateRange, rateRange, [-0.086,0.165], [-0.0091,0.0056], rateRange, [-1.04,1.05]]
];

var FONT = 'Liberation Sans, Arial, sans-serif';
var data = [];
var layout = {
  width: W, height: H,
  margin: {l: 0, r: 0, t: 0, b: 0, pad: 0},
  paper_bgcolor: '#ffffff',
  plot_bgcolor: '#ffffff',
  showlegend: false,
  font: {family: FONT, size: 12, color: '#1e1e1e'},
  annotations: []
};

for (var r = 0; r < 4; r++) {
  for (var c = 0; c < 9; c++) {
    var n = r * 9 + c + 1;
    var xa = n === 1 ? 'x' : 'x' + n;
    var ya = n === 1 ? 'y' : 'y' + n;
    var row = rows[r];

    data.push({x: months, y: row.hi90[c], xaxis: xa, yaxis: ya, mode: 'lines',
               line: {color: '#d02a4c', width: 1.9, dash: '2px,4px'}, hoverinfo: 'skip'});
    data.push({x: months, y: row.lo90[c], xaxis: xa, yaxis: ya, mode: 'lines',
               line: {color: '#d02a4c', width: 1.9, dash: '2px,4px'}, hoverinfo: 'skip'});
    data.push({x: months, y: row.hi68[c], xaxis: xa, yaxis: ya, mode: 'lines',
               line: {color: '#2e2e2e', width: 1.3, dash: '11px,5px'}, hoverinfo: 'skip'});
    data.push({x: months, y: row.lo68[c], xaxis: xa, yaxis: ya, mode: 'lines',
               line: {color: '#2e2e2e', width: 1.3, dash: '11px,5px'}, hoverinfo: 'skip'});
    data.push({x: months, y: row.irf[c], xaxis: xa, yaxis: ya, mode: 'lines+markers',
               line: {color: '#2a1a1e', width: 1.2},
               marker: {symbol: 'circle', size: 7, color: 'rgba(165,140,148,0.55)',
                        line: {color: '#2a2a2a', width: 1.1}},
               hoverinfo: 'skip'});

    var xDom = [colLeft[c] / W, colRight[c] / W];
    var yDom = [1 - (rowTop[r] + boxH) / H, 1 - rowTop[r] / H];

    layout['xaxis' + (n === 1 ? '' : n)] = {
      domain: xDom, anchor: ya, range: [-0.35, 18.35],
      tickmode: 'array', tickvals: monthTicks, ticktext: ['0','6','12','18'],
      ticks: 'outside', ticklen: 4, tickcolor: '#555', tickfont: {size: 13.5, family: FONT, color: '#1e1e1e'},
      showgrid: false, zeroline: false, showline: true, mirror: true, linecolor: '#8c8c8c', linewidth: 1,
      title: {text: 'Months', font: {size: 12.5, family: FONT, color: '#1e1e1e'}, standoff: 1},
      fixedrange: true
    };
    layout['yaxis' + (n === 1 ? '' : n)] = {
      domain: yDom, anchor: xa, range: yRanges[r][c],
      tickmode: 'array', tickvals: yTickVals[c], ticktext: yTickText[c],
      ticks: 'outside', ticklen: 4, tickcolor: '#555', tickfont: {size: 13.5, family: FONT, color: '#1e1e1e'},
      showgrid: true, gridcolor: '#ebebeb', gridwidth: 1,
      zeroline: false, showline: true, mirror: true, linecolor: '#8c8c8c', linewidth: 1,
      fixedrange: true
    };
    layout.annotations.push({
      text: 'QE -> ' + varNames[c] + ' volumes',
      xref: 'paper', yref: 'paper',
      x: (xDom[0] + xDom[1]) / 2, y: yDom[1],
      xanchor: 'center', yanchor: 'bottom', yshift: 2,
      showarrow: false, font: {size: 12.5, family: FONT, color: '#1e1e1e'}
    });
  }
}

Plotly.newPlot('irf_grid', data, layout, {displayModeBar: false, staticPlot: true});
</script>
</body>
</html>
